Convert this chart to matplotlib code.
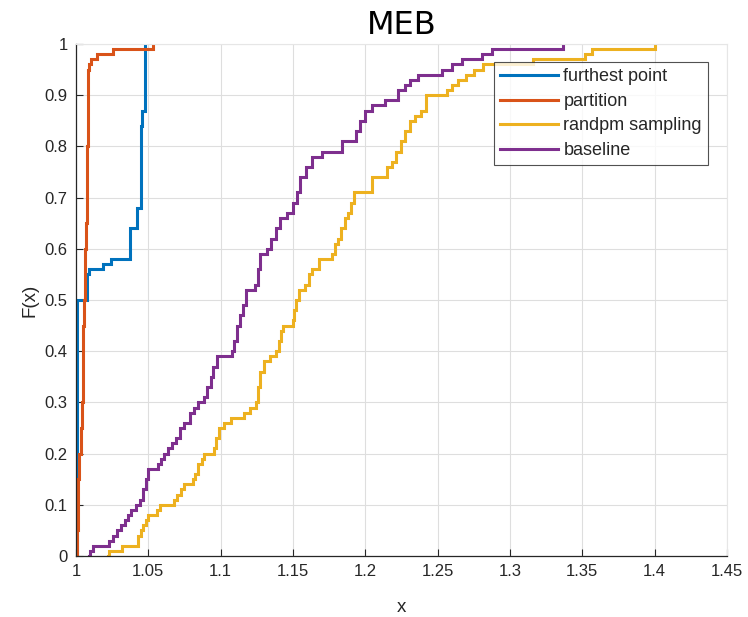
import matplotlib
matplotlib.use("Agg")
import matplotlib.pyplot as plt

# Step points (x where the ECDF jumps, F level after the jump)
furthest_x = [1.0005, 1.0005, 1.0074, 1.0090, 1.0189, 1.0242, 1.0373, 1.0419, 1.0447, 1.0458, 1.0477]
furthest_F = [0.00, 0.50, 0.55, 0.56, 0.57, 0.58, 0.64, 0.68, 0.84, 0.87, 1.00]

partition_x = [1.0005, 1.0009, 1.0012, 1.0016, 1.0024, 1.0035, 1.0041, 1.0046, 1.0050, 1.0054,
               1.0059, 1.0064, 1.0069, 1.0075, 1.0078, 1.0082, 1.0086, 1.0093, 1.0104, 1.0143,
               1.0258, 1.0532]
partition_F = [0.00, 0.05, 0.10, 0.15, 0.20, 0.25, 0.30, 0.40, 0.45, 0.50,
               0.55, 0.60, 0.65, 0.70, 0.80, 0.90, 0.95, 0.96, 0.97, 0.98,
               0.99, 1.00]

random_x = [1.0221, 1.0228, 1.0318, 1.0429, 1.0449, 1.0463, 1.0484, 1.0498, 1.0560, 1.0581,
            1.0677, 1.0698, 1.0726, 1.0747, 1.0809, 1.0823, 1.0843, 1.0871, 1.0885, 1.0954,
            1.0968, 1.0988, 1.1023, 1.1071, 1.1161, 1.1203, 1.1244, 1.1258, 1.1272, 1.1300,
            1.1341, 1.1382, 1.1403, 1.1417, 1.1431, 1.1500, 1.1507, 1.1521, 1.1541, 1.1583,
            1.1611, 1.1631, 1.1680, 1.1770, 1.1790, 1.1811, 1.1832, 1.1859, 1.1880, 1.1901,
            1.1922, 1.2046, 1.2150, 1.2184, 1.2212, 1.2247, 1.2274, 1.2309, 1.2343, 1.2385,
            1.2419, 1.2565, 1.2599, 1.2641, 1.2696, 1.2751, 1.2813, 1.3159, 1.3518, 1.3567,
            1.4002]
random_F = [0.00, 0.01, 0.02, 0.04, 0.05, 0.06, 0.07, 0.08, 0.09, 0.10,
            0.11, 0.12, 0.13, 0.14, 0.15, 0.16, 0.18, 0.19, 0.20, 0.21,
            0.23, 0.25, 0.26, 0.27, 0.28, 0.29, 0.30, 0.33, 0.36, 0.38,
            0.39, 0.40, 0.42, 0.44, 0.45, 0.46, 0.48, 0.50, 0.52, 0.53,
            0.55, 0.56, 0.58, 0.59, 0.61, 0.62, 0.64, 0.66, 0.67, 0.69,
            0.71, 0.74, 0.76, 0.77, 0.79, 0.81, 0.83, 0.85, 0.86, 0.87,
            0.90, 0.91, 0.92, 0.93, 0.94, 0.95, 0.96, 0.97, 0.98, 0.99,
            1.00]

baseline_x = [1.0090, 1.0097, 1.0117, 1.0228, 1.0256, 1.0283, 1.0311, 1.0339, 1.0359, 1.0380,
              1.0415, 1.0442, 1.0463, 1.0484, 1.0498, 1.0567, 1.0588, 1.0608, 1.0636, 1.0664,
              1.0691, 1.0719, 1.0747, 1.0788, 1.0816, 1.0843, 1.0885, 1.0905, 1.0933, 1.0947,
              1.0975, 1.1078, 1.1092, 1.1113, 1.1134, 1.1154, 1.1175, 1.1237, 1.1258, 1.1272,
              1.1320, 1.1348, 1.1382, 1.1410, 1.1458, 1.1500, 1.1527, 1.1548, 1.1590, 1.1631,
              1.1700, 1.1838, 1.1935, 1.1963, 1.1997, 1.2046, 1.2136, 1.2226, 1.2274, 1.2309,
              1.2364, 1.2530, 1.2599, 1.2668, 1.2806, 1.2876, 1.3366]
baseline_F = [0.00, 0.01, 0.02, 0.03, 0.04, 0.05, 0.06, 0.07, 0.08, 0.09,
              0.10, 0.11, 0.13, 0.15, 0.17, 0.18, 0.19, 0.20, 0.21, 0.22,
              0.23, 0.25, 0.26, 0.28, 0.29, 0.30, 0.31, 0.33, 0.35, 0.37,
              0.39, 0.40, 0.42, 0.45, 0.47, 0.49, 0.52, 0.53, 0.56, 0.59,
              0.60, 0.62, 0.64, 0.66, 0.67, 0.69, 0.71, 0.74, 0.76, 0.78,
              0.79, 0.81, 0.83, 0.85, 0.87, 0.88, 0.89, 0.91, 0.92, 0.93,
              0.94, 0.95, 0.96, 0.97, 0.98, 0.99, 1.00]

labels = ["furthest point", "partition", "randpm sampling", "baseline"]
colors = ["#0072BD", "#D95319", "#EDB120", "#7E2F8E"]
x_ticks = [1, 1.05, 1.1, 1.15, 1.2, 1.25, 1.3, 1.35, 1.4, 1.45]
x_ticklabels = ["1", "1.05", "1.1", "1.15", "1.2", "1.25", "1.3", "1.35", "1.4", "1.45"]
y_ticks = [0, 0.1, 0.2, 0.3, 0.4, 0.5, 0.6, 0.7, 0.8, 0.9, 1]
y_ticklabels = ["0", "0.1", "0.2", "0.3", "0.4", "0.5", "0.6", "0.7", "0.8", "0.9", "1"]

plt.rcParams['font.family'] = ['Liberation Sans', 'DejaVu Sans']

fig = plt.figure(figsize=(7.48, 6.17), dpi=100)
ax = fig.add_axes([76/748, 61/617, 651/748, 512/617])

series = [(furthest_x, furthest_F), (partition_x, partition_F),
          (random_x, random_F), (baseline_x, baseline_F)]
for (xs, fs), lab, col in zip(series, labels, colors):
    ax.plot(xs, fs, drawstyle='steps-post', color=col, lw=2.2, label=lab,
            solid_joinstyle='miter')

ax.set_xlim(1, 1.45)
ax.set_ylim(0, 1)
ax.set_xticks(x_ticks)
ax.set_xticklabels(x_ticklabels)
ax.set_yticks(y_ticks)
ax.set_yticklabels(y_ticklabels)
ax.tick_params(direction='in', length=5, width=0.8, colors='#262626', labelsize=12, pad=6)
ax.grid(True, color='#dedede', lw=0.8)
ax.set_axisbelow(True)
for s in ['top', 'right']:
    ax.spines[s].set_color('#e6e6e6')
for s in ['left', 'bottom']:
    ax.spines[s].set_color('#262626')
    ax.spines[s].set_linewidth(0.9)

ax.set_xlabel("x", fontsize=13.5, color='#262626', labelpad=14)
ax.set_ylabel("F(x)", fontsize=13.5, color='#262626', labelpad=4)
ax.set_title("MEB", fontsize=23, family='DejaVu Sans', color='black', pad=7)

leg = ax.legend(loc='upper right', bbox_to_anchor=(0.971, 0.965), borderaxespad=0,
                fontsize=13, frameon=True, fancybox=False, handlelength=3.2,
                handletextpad=0.3, labelspacing=0.42, borderpad=0.35)
leg.get_frame().set_edgecolor('#262626')
leg.get_frame().set_linewidth(0.8)
for t in leg.get_texts():
    t.set_color('#262626')

fig.savefig("out.png", dpi=100)
